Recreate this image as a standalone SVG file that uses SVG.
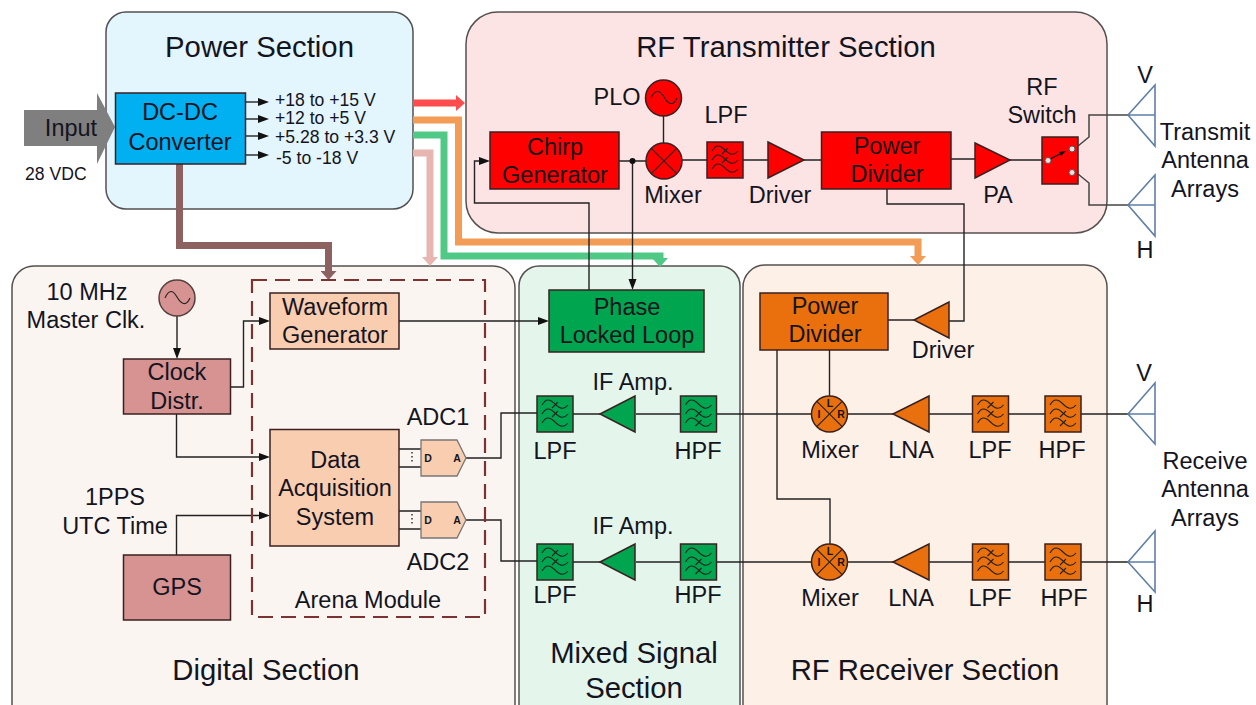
<svg xmlns="http://www.w3.org/2000/svg" width="1256" height="705" viewBox="0 0 1256 705">
<style>
text{font-family:"Liberation Sans",Arial,sans-serif;font-size:23.5px;fill:#14141e;text-anchor:middle}
.t{font-size:29.3px}
.s{font-size:17.6px;text-anchor:start}
.b{font-size:10.5px;font-weight:bold}
.sec{stroke:#55504f;stroke-width:1.5}
.box{stroke:#3a2020;stroke-width:1.5}
.red{fill:#ff0000}.grn{fill:#00a64f}.org{fill:#e9700c}.pnk{fill:#d69391}.pch{fill:#f9cdb0}
.ln{fill:none;stroke:#222;stroke-width:1.4}
.w{fill:none;stroke:#222;stroke-width:1.1}
.ant{fill:none;stroke:#5f7fa8;stroke-width:1.6}
.ar{marker-end:url(#a)}
.p{fill:none;stroke-width:7}
</style>
<defs>
<marker id="a" markerUnits="userSpaceOnUse" markerWidth="12" markerHeight="10" refX="0" refY="5" orient="auto"><path d="M0,1 L11,5 L0,9 Z" fill="#111"/></marker>
<marker id="hr" markerUnits="userSpaceOnUse" markerWidth="10" markerHeight="16" refX="0" refY="8" orient="auto"><path d="M0,0 L9,8 L0,16 Z" fill="#ff4d4d"/></marker>
<marker id="ho" markerUnits="userSpaceOnUse" markerWidth="10" markerHeight="16" refX="0" refY="8" orient="auto"><path d="M0,0 L9,8 L0,16 Z" fill="#f39c56"/></marker>
<marker id="hg" markerUnits="userSpaceOnUse" markerWidth="10" markerHeight="16" refX="0" refY="8" orient="auto"><path d="M0,0 L9,8 L0,16 Z" fill="#4fc985"/></marker>
<marker id="hp" markerUnits="userSpaceOnUse" markerWidth="10" markerHeight="16" refX="0" refY="8" orient="auto"><path d="M0,0 L9,8 L0,16 Z" fill="#e8b6b1"/></marker>
<marker id="hb" markerUnits="userSpaceOnUse" markerWidth="10" markerHeight="16" refX="0" refY="8" orient="auto"><path d="M0,0 L9,8 L0,16 Z" fill="#8c6160"/></marker>
<symbol id="lpf" viewBox="0 0 36 36" width="36" height="36" overflow="visible">
<rect width="36" height="36" stroke="#3a2020" stroke-width="1.5" fill="none"/>
<path class="w" d="M5,9 C9,2 13,3 18,8 S27,14 31,9 M5,18 C9,11 13,12 18,17 S27,23 31,18 M5,27 C9,20 13,21 18,26 S27,32 31,27 M15,12 L21,6 M15,21 L21,15"/>
</symbol>
<symbol id="hpf" viewBox="0 0 36 36" width="36" height="36" overflow="visible">
<rect width="36" height="36" stroke="#3a2020" stroke-width="1.5" fill="none"/>
<path class="w" d="M5,9 C9,2 13,3 18,8 S27,14 31,9 M5,18 C9,11 13,12 18,17 S27,23 31,18 M5,27 C9,20 13,21 18,26 S27,32 31,27 M15,21 L21,15 M15,30 L21,24"/>
</symbol>
</defs>
<rect width="1256" height="705" fill="#fff"/>

<g id="sections">
<g id="power-section"><rect class="sec" x="106" y="12" width="307" height="197" rx="20" fill="#e3f5fd"/><text class="t" x="259.5" y="57">Power Section</text></g>
<g id="tx-section"><rect class="sec" x="466" y="12" width="641" height="221" rx="32" fill="#fde4e4"/><text class="t" x="786" y="57">RF Transmitter Section</text></g>
<g id="digital-section"><rect class="sec" x="12" y="266" width="503" height="470" rx="22" fill="#fbf5f2"/><text class="t" x="266" y="680">Digital Section</text></g>
<g id="mixed-section"><rect class="sec" x="519" y="266" width="221" height="470" rx="20" fill="#e4f6ec"/><text class="t" x="634" y="663">Mixed Signal</text><text class="t" x="634" y="698">Section</text></g>
<g id="rx-section"><rect class="sec" x="743" y="265" width="364" height="471" rx="22" fill="#fdf0e7"/><text class="t" x="925" y="680">RF Receiver Section</text></g>
</g>

<g id="connectors">
<path class="p" stroke="#ff4d4d" marker-end="url(#hr)" d="M413,103 H456"/>
<path class="p" stroke="#f39c56" marker-end="url(#ho)" d="M413,120 H458.5 V242 H918 V256"/>
<path class="p" stroke="#4fc985" marker-end="url(#hg)" d="M413,135 H444 V256 H660 V258"/>
<path class="p" stroke="#e8b6b1" marker-end="url(#hp)" d="M413,153 H430 V257"/>
<path class="p" stroke="#8c6160" marker-end="url(#hb)" d="M179.5,164 V245.5 H328.5 V271"/>
<path class="ln ar" d="M245,102 H258"/><path class="ln ar" d="M245,119 H258"/><path class="ln ar" d="M245,136 H258"/><path class="ln ar" d="M245,155 H258"/>
<path class="ln" d="M619,161 H646 M663.5,116 V143 M682,160 H707 M743,160 H768 M804,160 H822 M951,159 H975 M1010,160 H1048"/>
<path class="ln ar" d="M632.5,161 V279"/>
<path class="ln ar" d="M589,290 V203 H474.5 V161 H479"/>
<path class="ln" d="M887,189 V204 H964 V321 H949 M914,320 H888"/>
<path class="ln" d="M829.5,350 V396 M777,350 V499 H830 V544"/>
<path class="ln" d="M1128,414 H1081 M1045,414 H1009 M973,414 H929 M893,414 H848 M811,414 H717 M680,414 H636 M600,414 H573"/>
<path class="ln" d="M1128,562 H1081 M1045,562 H1009 M973,562 H929 M893,562 H848 M811,562 H717 M680,562 H636 M600,562 H573"/>
<path class="ln" d="M466,458 H501 V413 H537 M466,520 H501 V561 H537"/>
<path class="ln" d="M399,449 H421 M399,467 H421 M399,511 H421 M399,529 H421"/>
<path d="M412,452 V464 M412,514 V526" fill="none" stroke="#333" stroke-width="1.5" stroke-dasharray="1.5 2.5"/>
<path class="ln ar" d="M177,316 V348"/>
<path class="ln ar" d="M230,387 H243.5 V321 H259"/>
<path class="ln ar" d="M176.5,414 V457 H259"/>
<path class="ln ar" d="M176.5,555 V515.5 H259"/>
<path class="ln ar" d="M399,321 H538"/>
<path d="M1078,146 L1089,137 V115 H1128 M1078,174 L1089,183 V205 H1128" fill="none" stroke="#444" stroke-width="1.5"/>
</g>

<g id="input"><path d="M24,110 H97 V93 L115,127 L97,164 V146 H24 Z" fill="#7f7f7f"/><text x="71" y="136">Input</text><text class="s" x="25" y="180">28 VDC</text></g>
<g id="dcdc"><rect class="box" x="115.5" y="93" width="130" height="71" fill="#00b0f0"/><text x="180" y="120">DC-DC</text><text x="180" y="150">Converter</text></g>
<g id="rails"><text class="s" x="275" y="106">+18 to +15 V</text><text class="s" x="275" y="124">+12 to +5 V</text><text class="s" x="275" y="143">+5.28 to +3.3 V</text><text class="s" x="276" y="164">-5 to -18 V</text></g>

<g id="chirp"><rect class="box red" x="490" y="132" width="129" height="57"/><text x="555" y="155">Chirp</text><text x="555" y="183">Generator</text></g>
<g id="junction"><circle cx="632.5" cy="161" r="3" fill="#111"/></g>
<g id="plo"><circle class="box red" cx="663.5" cy="98" r="18"/><path class="w" d="M651,98 C655,89 660,90 664,97 S673,107 677,98"/><text x="617" y="105">PLO</text></g>
<g id="tx-mixer"><circle class="box red" cx="664" cy="161" r="18"/><path class="w" d="M651.3,148.3 L676.7,173.7 M676.7,148.3 L651.3,173.7"/><text x="673" y="203">Mixer</text></g>
<g id="tx-lpf"><rect class="red" x="707" y="142" width="36" height="36"/><use href="#lpf" x="707" y="142"/><text x="726" y="123">LPF</text></g>
<g id="tx-driver"><path class="box red" d="M768,142 L804,160 L768,178 Z"/><text x="780" y="203">Driver</text></g>
<g id="tx-divider"><rect class="box red" x="821.5" y="132" width="129.5" height="57"/><text x="887" y="154">Power</text><text x="887" y="182">Divider</text></g>
<g id="pa"><path class="box red" d="M975,143 L1010,160 L975,178 Z"/><text x="998" y="203">PA</text></g>
<g id="rf-switch"><rect class="box red" x="1042" y="137" width="36" height="47"/><path d="M1050,159 L1062,153" stroke="#111" stroke-width="1.2" fill="none"/><path d="M1066,151 L1059,152 L1061,156 Z" fill="#111"/><g fill="#f3dddd" stroke="#555" stroke-width="1"><circle cx="1048" cy="160.5" r="3"/><circle cx="1072" cy="149" r="3"/><circle cx="1072" cy="172.5" r="3"/></g><text x="1042" y="95">RF</text><text x="1042" y="123">Switch</text></g>
<g id="tx-ant-v"><path class="ant" d="M1155,85 L1128,115 L1155,146 Z M1128,115 H1155"/><text x="1145" y="83">V</text></g>
<g id="tx-ant-h"><path class="ant" d="M1155,175 L1128,205 L1155,236 Z M1128,205 H1155"/><text x="1145" y="258">H</text></g>
<g id="tx-ant-label"><text x="1205" y="140">Transmit</text><text x="1205" y="168">Antenna</text><text x="1205" y="197">Arrays</text></g>

<g id="arena"><rect x="252" y="280" width="233" height="337" fill="none" stroke="#7b3232" stroke-width="2.2" stroke-dasharray="15 8"/><text x="368" y="608">Arena Module</text></g>
<g id="master-clk"><circle cx="177" cy="298" r="18" fill="#d69391" stroke="#554040" stroke-width="1.5"/><path class="w" d="M165,298 C169,289 173,290 177,297 S186,307 190,298"/><text x="87" y="300">10 MHz</text><text x="86" y="328">Master Clk.</text></g>
<g id="clock"><rect class="box pnk" x="123.5" y="359" width="107" height="55"/><text x="177" y="380">Clock</text><text x="177" y="409">Distr.</text></g>
<g id="gps"><rect class="box pnk" x="123.5" y="555" width="107" height="65"/><text x="177" y="595">GPS</text><text x="115" y="505">1PPS</text><text x="115" y="534">UTC Time</text></g>
<g id="waveform"><rect class="box pch" x="270" y="293" width="129" height="56"/><text x="335" y="315">Waveform</text><text x="335" y="343">Generator</text></g>
<g id="daq"><rect class="box pch" x="270" y="429.5" width="129" height="116.5"/><text x="335" y="468">Data</text><text x="335" y="496">Acquisition</text><text x="335" y="525">System</text></g>
<g id="adc1"><path class="pch" stroke="#777" stroke-width="1.3" d="M421,440 H457 L466,458 L457,476 H421 Z"/><text class="b" x="428" y="462">D</text><text class="b" x="457" y="462">A</text><text x="438" y="425">ADC1</text></g>
<g id="adc2"><path class="pch" stroke="#777" stroke-width="1.3" d="M421,502 H457 L466,520 L457,538 H421 Z"/><text class="b" x="428" y="524">D</text><text class="b" x="457" y="524">A</text><text x="438" y="570">ADC2</text></g>

<g id="pll"><rect class="box grn" x="549" y="290" width="155" height="62"/><text x="627" y="315">Phase</text><text x="627" y="343">Locked Loop</text></g>
<g id="if-lpf1"><rect class="grn" x="537" y="396" width="36" height="36"/><use href="#lpf" x="537" y="396"/><text x="555" y="459">LPF</text></g>
<g id="if-amp1"><path class="box grn" d="M600,414 L635,396 V432 Z"/><text x="633" y="390">IF Amp.</text></g>
<g id="if-hpf1"><rect class="grn" x="680" y="396" width="37" height="36"/><use href="#hpf" x="680.5" y="396"/><text x="698" y="459">HPF</text></g>
<g id="if-lpf2"><rect class="grn" x="537" y="544" width="36" height="36"/><use href="#lpf" x="537" y="544"/><text x="555" y="603">LPF</text></g>
<g id="if-amp2"><path class="box grn" d="M600,562 L635,544 V580 Z"/><text x="633" y="534">IF Amp.</text></g>
<g id="if-hpf2"><rect class="grn" x="680" y="544" width="37" height="36"/><use href="#hpf" x="680.5" y="544"/><text x="698" y="603">HPF</text></g>

<g id="rx-divider"><rect class="box org" x="760" y="293" width="128" height="57"/><text x="825" y="314">Power</text><text x="825" y="342">Divider</text></g>
<g id="rx-driver"><path class="box org" d="M914,320 L949,302 V338 Z"/><text x="943" y="358">Driver</text></g>
<g id="rx-mixer1"><circle class="box org" cx="829.5" cy="414" r="18"/><path class="w" d="M816.8,401.3 L842.2,426.7 M842.2,401.3 L816.8,426.7"/><text class="b" x="830" y="407">L</text><text class="b" x="819" y="418">I</text><text class="b" x="841" y="418">R</text><text x="830" y="458">Mixer</text></g>
<g id="rx-lna1"><path class="box org" d="M893,414 L929,396 V432 Z"/><text x="911" y="458">LNA</text></g>
<g id="rx-lpf1"><rect class="org" x="972.5" y="396" width="36" height="36"/><use href="#lpf" x="972.5" y="396"/><text x="990" y="458">LPF</text></g>
<g id="rx-hpf1"><rect class="org" x="1045" y="396" width="36" height="36"/><use href="#hpf" x="1045" y="396"/><text x="1062" y="458">HPF</text></g>
<g id="rx-ant-v"><path class="ant" d="M1155,383 L1128,414 L1155,444 Z M1128,414 H1155"/><text x="1144" y="381">V</text></g>
<g id="rx-mixer2"><circle class="box org" cx="829.5" cy="562" r="18"/><path class="w" d="M816.8,549.3 L842.2,574.7 M842.2,549.3 L816.8,574.7"/><text class="b" x="830" y="555">L</text><text class="b" x="819" y="566">I</text><text class="b" x="841" y="566">R</text><text x="830" y="606">Mixer</text></g>
<g id="rx-lna2"><path class="box org" d="M893,562 L929,544 V580 Z"/><text x="911" y="606">LNA</text></g>
<g id="rx-lpf2"><rect class="org" x="972.5" y="544" width="36" height="36"/><use href="#lpf" x="972.5" y="544"/><text x="990" y="606">LPF</text></g>
<g id="rx-hpf2"><rect class="org" x="1045" y="544" width="36" height="36"/><use href="#hpf" x="1045" y="544"/><text x="1064" y="606">HPF</text></g>
<g id="rx-ant-h"><path class="ant" d="M1155,531 L1128,562 L1155,592 Z M1128,562 H1155"/><text x="1145" y="612">H</text></g>
<g id="rx-ant-label"><text x="1205" y="469">Receive</text><text x="1205" y="497">Antenna</text><text x="1205" y="526">Arrays</text></g>
</svg>
